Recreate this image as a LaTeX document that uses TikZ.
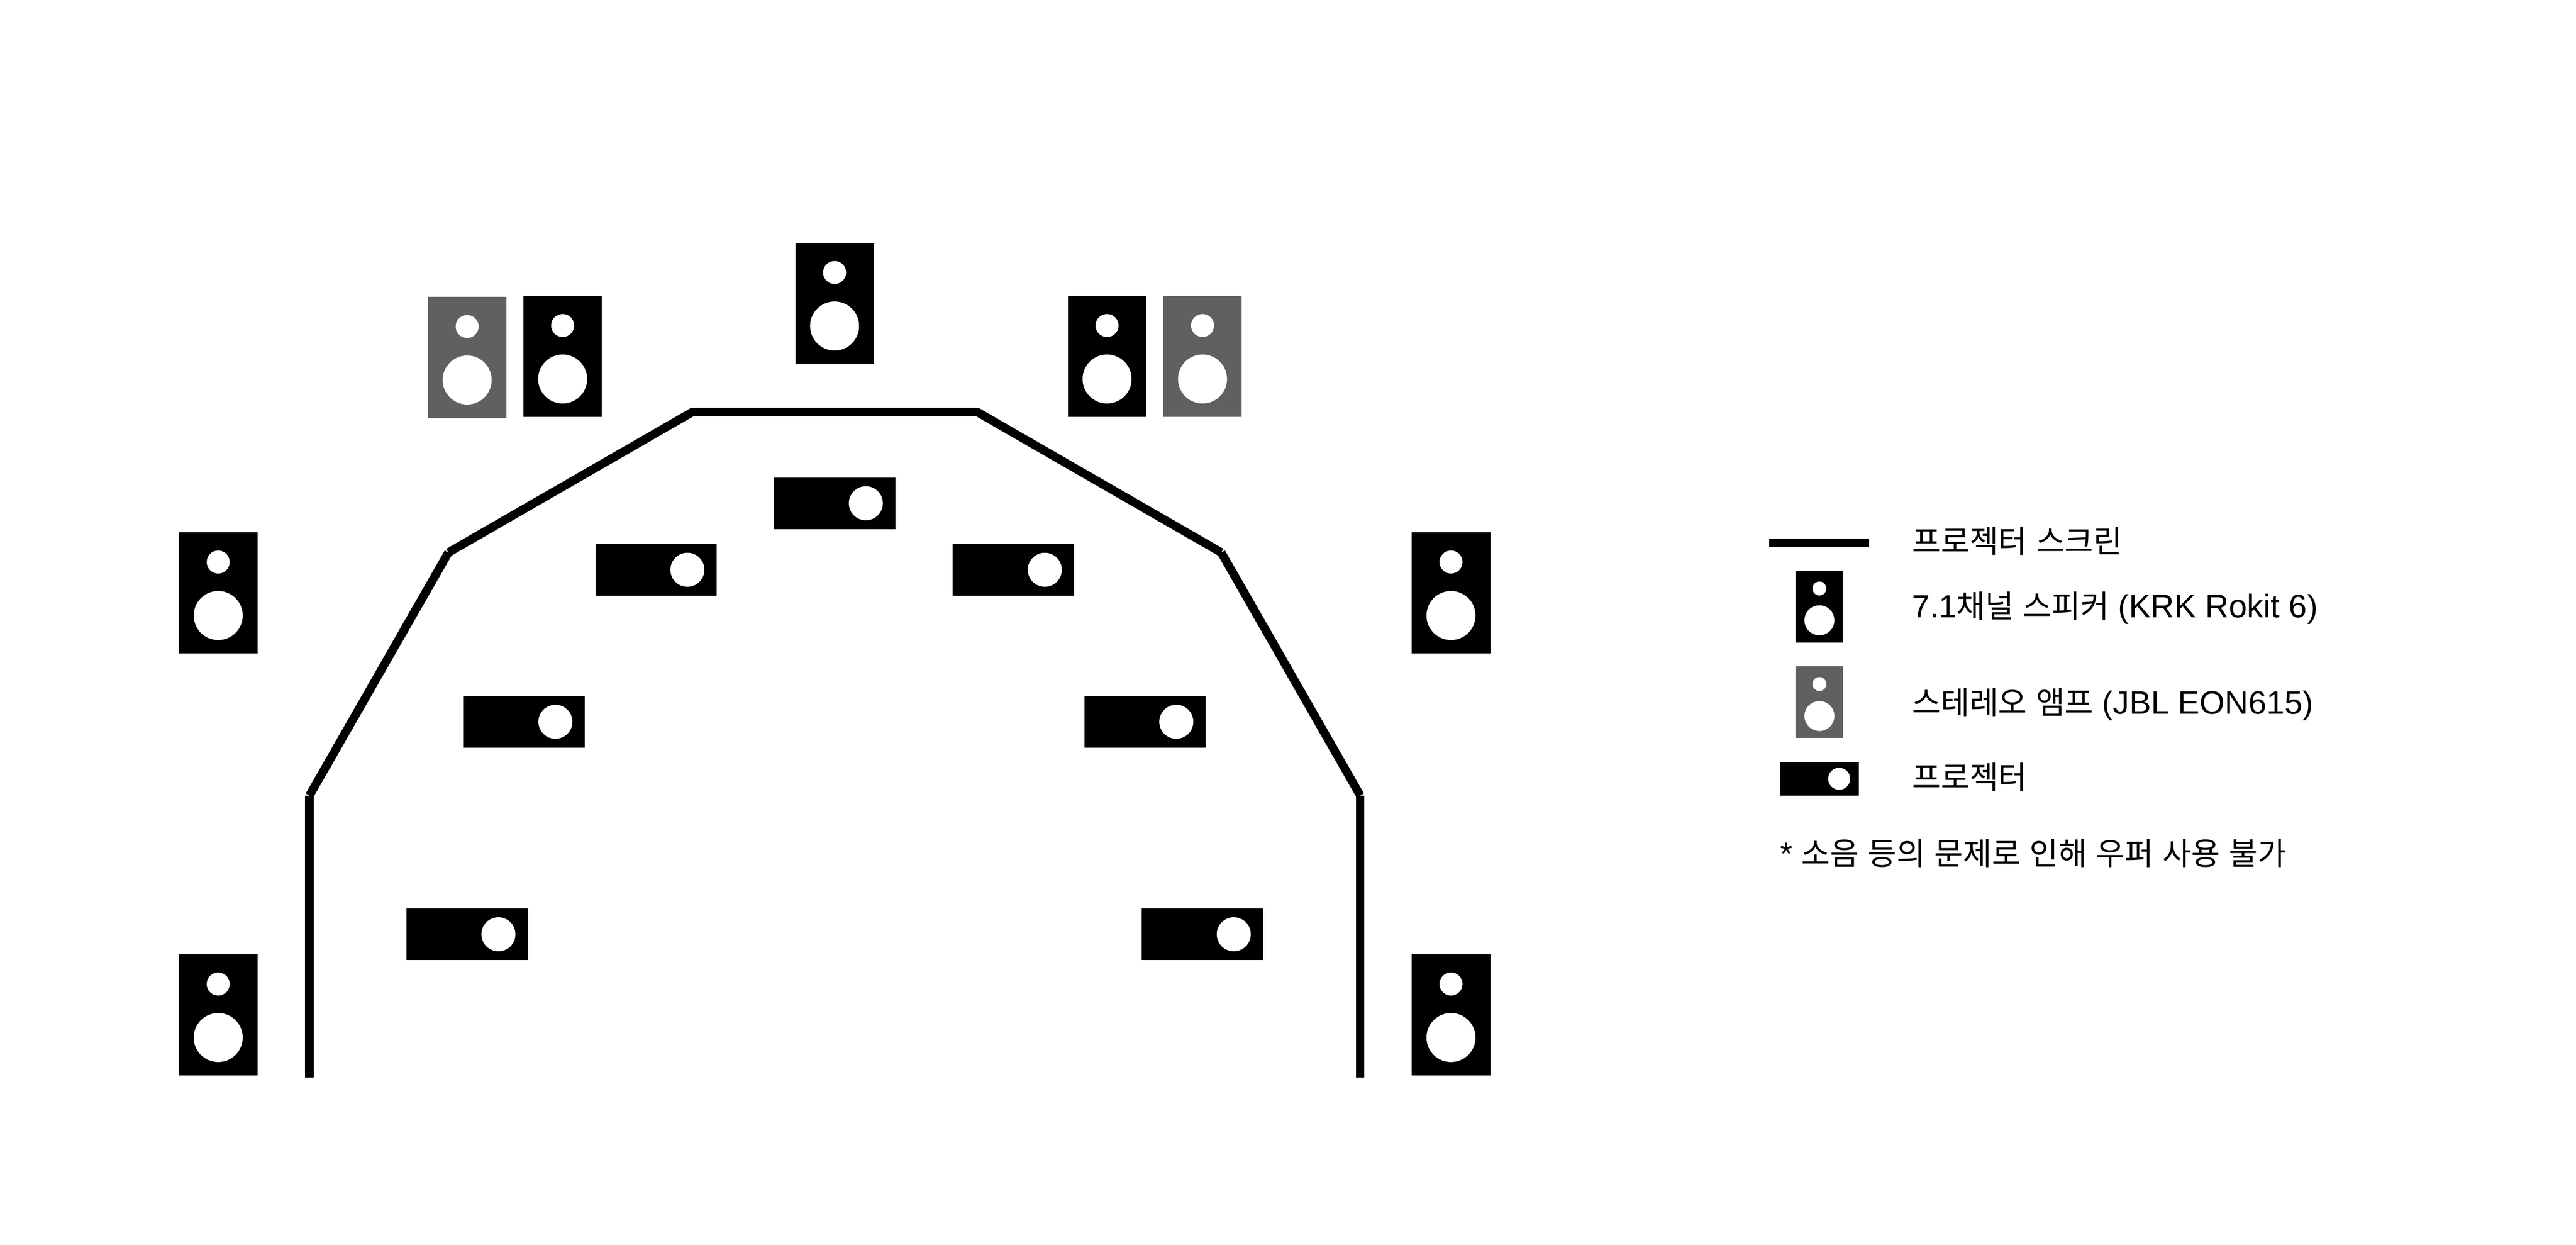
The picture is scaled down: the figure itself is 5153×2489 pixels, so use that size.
\documentclass[tikz,border=0pt]{standalone}
\usepackage{fontspec}
\setmainfont{Liberation Sans}
\newfontfamily\kr{Noto Sans CJK KR}
\newcommand{\K}[1]{{\kr\fontsize{62.5}{62.5}\selectfont\spaceskip=18pt #1}}
\tikzset{
  x=1pt,y=-1pt,
  screenline/.style={line width=17pt,black,line cap=butt,line join=miter},
  lbl/.style={anchor=base west,inner sep=0pt,outer sep=0pt,font=\fontsize{64}{64}\selectfont},
  hole/.style={fill=white},
  pics/spk/.style={code={
    \fill[#1] (0,0) rectangle (157,242);
    \fill[hole] (78.5,59) circle[radius=23];
    \fill[hole] (78.5,166) circle[radius=49];
  }},
  pics/proj/.style={code={
    \fill[black] (0,0) rectangle (243,103);
    \fill[hole] (184,51.5) circle[radius=34];
  }}
}
\definecolor{spkgray}{HTML}{606060}
\begin{document}
\begin{tikzpicture}
\useasboundingbox (0,0) rectangle (5153,2489);
\fill[white] (0,0) rectangle (5153,2489);
% speakers
\pic at (358,1909) {spk=black};
\pic at (358,1065) {spk=black};
\pic at (1047,592) {spk=black};
\pic at (856,594) {spk=spkgray};
\pic at (1591,486) {spk=black};
\pic at (2136,592) {spk=black};
\pic at (2327,592) {spk=spkgray};
\pic at (2824,1065) {spk=black};
\pic at (2824,1909) {spk=black};
% projectors
\pic at (1548,955) {proj};
\pic at (1191,1088) {proj};
\pic at (1906,1088) {proj};
\pic at (927,1392) {proj};
\pic at (2169,1392) {proj};
\pic at (813,1817) {proj};
\pic at (2284,1817) {proj};
% screen
\coordinate (s0) at (619,2155);
\coordinate (s1) at (619,1591);
\coordinate (s2) at (897,1105);
\coordinate (s3) at (1385,824);
\coordinate (s4) at (1955,824);
\coordinate (s5) at (2443,1105);
\coordinate (s6) at (2721,1591);
\coordinate (s7) at (2721,2155);
\draw[screenline] (s0) -- (s1);
\draw[screenline] (s1) -- (s2);
\draw[screenline] (s2) -- (s3) -- (s4) -- (s5);
\draw[screenline] (s5) -- (s6);
\draw[screenline] (s6) -- (s7);
% legend symbols
\coordinate (l0) at (3539,1085);
\coordinate (l1) at (3739,1085);
\draw[screenline] (l0) -- (l1);
\fill[black] (3592,1142) rectangle (3686,1285);
\fill[hole] (3639.5,1177) circle[radius=14];
\fill[hole] (3639.5,1240.5) circle[radius=30];
\fill[spkgray] (3592,1333) rectangle (3686,1476);
\fill[hole] (3639.5,1368) circle[radius=14];
\fill[hole] (3639.5,1432) circle[radius=30];
\fill[black] (3561,1524) rectangle (3718,1591);
\fill[hole] (3679,1557.5) circle[radius=22];
% legend labels
\node[lbl] (t1) at (3825,1105) {\K{프로젝터 스크린}};
\node[lbl] (t2) at (3825,1235) {7.1\K{채널 스피커} ({\fontsize{65.5}{65.5}\selectfont KRK Rokit 6})};
\node[lbl] (t3) at (3825,1428) {\K{스테레오 앰프} ({\fontsize{65}{65}\selectfont JBL EON615})};
\node[lbl] (t4) at (3825,1577) {\K{프로젝터}};
\node[lbl] (t5) at (3561,1730) {* \K{소음 등의 문제로 인해 우퍼 사용 불가}};
\end{tikzpicture}
\end{document}
